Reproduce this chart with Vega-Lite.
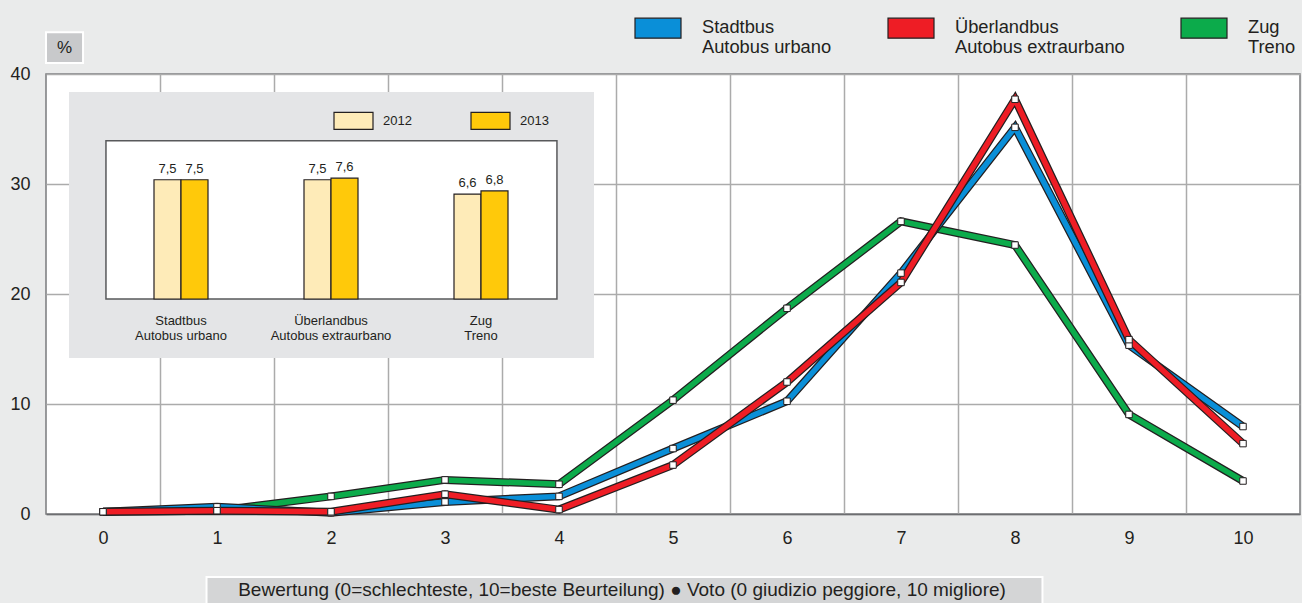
{
  "$schema": "https://vega.github.io/schema/vega-lite/v6.json",
  "width": 1254,
  "height": 440,
  "autosize": {"type": "none"},
  "padding": {"left": 46, "top": 74, "right": 2, "bottom": 89},
  "background": "#EAEBEB",
  "config": {
    "font": "Liberation Sans",
    "view": {"fill": "white", "stroke": "#7A7B7D", "strokeWidth": 1.5}
  },
  "datasets": {
    "lines": [
      {"score": 0, "series": "Stadtbus|Autobus urbano", "value": 0.2},
      {"score": 1, "series": "Stadtbus|Autobus urbano", "value": 0.65},
      {"score": 2, "series": "Stadtbus|Autobus urbano", "value": 0.12},
      {"score": 3, "series": "Stadtbus|Autobus urbano", "value": 1.1},
      {"score": 4, "series": "Stadtbus|Autobus urbano", "value": 1.6},
      {"score": 5, "series": "Stadtbus|Autobus urbano", "value": 5.95},
      {"score": 6, "series": "Stadtbus|Autobus urbano", "value": 10.25},
      {"score": 7, "series": "Stadtbus|Autobus urbano", "value": 21.9},
      {"score": 8, "series": "Stadtbus|Autobus urbano", "value": 35.15},
      {"score": 9, "series": "Stadtbus|Autobus urbano", "value": 15.35},
      {"score": 10, "series": "Stadtbus|Autobus urbano", "value": 7.95},
      {"score": 0, "series": "Überlandbus|Autobus extraurbano", "value": 0.2},
      {"score": 1, "series": "Überlandbus|Autobus extraurbano", "value": 0.3},
      {"score": 2, "series": "Überlandbus|Autobus extraurbano", "value": 0.2},
      {"score": 3, "series": "Überlandbus|Autobus extraurbano", "value": 1.8},
      {"score": 4, "series": "Überlandbus|Autobus extraurbano", "value": 0.4},
      {"score": 5, "series": "Überlandbus|Autobus extraurbano", "value": 4.45},
      {"score": 6, "series": "Überlandbus|Autobus extraurbano", "value": 12.0},
      {"score": 7, "series": "Überlandbus|Autobus extraurbano", "value": 21.05},
      {"score": 8, "series": "Überlandbus|Autobus extraurbano", "value": 37.7},
      {"score": 9, "series": "Überlandbus|Autobus extraurbano", "value": 15.85},
      {"score": 10, "series": "Überlandbus|Autobus extraurbano", "value": 6.4},
      {"score": 0, "series": "Zug|Treno", "value": 0.2},
      {"score": 1, "series": "Zug|Treno", "value": 0.3},
      {"score": 2, "series": "Zug|Treno", "value": 1.6},
      {"score": 3, "series": "Zug|Treno", "value": 3.1},
      {"score": 4, "series": "Zug|Treno", "value": 2.7},
      {"score": 5, "series": "Zug|Treno", "value": 10.35},
      {"score": 6, "series": "Zug|Treno", "value": 18.7},
      {"score": 7, "series": "Zug|Treno", "value": 26.6},
      {"score": 8, "series": "Zug|Treno", "value": 24.45},
      {"score": 9, "series": "Zug|Treno", "value": 9.05},
      {"score": 10, "series": "Zug|Treno", "value": 3.0}
    ],
    "inset": [
      {"cat": "Stadtbus|Autobus urbano", "year": "2012", "score": 7.5},
      {"cat": "Stadtbus|Autobus urbano", "year": "2013", "score": 7.5},
      {"cat": "Überlandbus|Autobus extraurbano", "year": "2012", "score": 7.5},
      {"cat": "Überlandbus|Autobus extraurbano", "year": "2013", "score": 7.6},
      {"cat": "Zug|Treno", "year": "2012", "score": 6.6},
      {"cat": "Zug|Treno", "year": "2013", "score": 6.8}
    ],
    "one": [{}]
  },
  "resolve": {"scale": {"x": "independent", "y": "independent", "color": "independent"}},
  "layer": [
    {"data": {"name": "lines"},
      "mark": {"type": "line", "color": "#231F20", "strokeWidth": 8, "strokeJoin": "miter"},
      "transform": [{"filter": "datum.series == 'Zug|Treno'"}],
      "encoding": {
        "x": {"field": "score", "type": "quantitative",
          "scale": {"domain": [-0.5, 10.5], "nice": false, "zero": false},
          "axis": {"orient": "bottom", "values": [0, 0.5, 1, 1.5, 2, 2.5, 3, 3.5, 4, 4.5, 5, 5.5, 6, 6.5, 7, 7.5, 8, 8.5, 9, 9.5, 10],
            "labelExpr": "datum.value % 1 == 0 ? format(datum.value, 'd') : ''",
            "grid": true, "gridColor": "#ABABAB", "gridWidth": 1.5,
            "gridOpacity": {"condition": {"test": "datum.value % 1 == 0", "value": 0}, "value": 1},
            "ticks": false, "domain": true, "domainColor": "#6D6E71", "domainWidth": 1.5,
            "labelFontSize": 18, "labelPadding": 15, "labelColor": "#231F20", "labelOverlap": false, "labelFlush": false,
            "title": null}},
        "y": {"field": "value", "type": "quantitative",
          "scale": {"domain": [0, 40], "nice": false},
          "axis": {"orient": "left", "values": [0, 10, 20, 30, 40], "grid": true, "gridColor": "#ABABAB", "gridWidth": 1.5,
            "ticks": false, "domain": false, "labelFontSize": 18, "labelPadding": 16, "labelColor": "#231F20", "title": null}}
      }
    },
    {"data": {"name": "one"},
      "mark": {"type": "rect", "fill": "#E4E5E7"},
      "encoding": {
        "x": {"datum": -0.298, "type": "quantitative", "scale": {"domain": [-0.5, 10.5], "nice": false, "zero": false}, "axis": null},
        "x2": {"datum": 4.307},
        "y": {"datum": 38.36, "type": "quantitative", "scale": {"domain": [0, 40], "nice": false}, "axis": null},
        "y2": {"datum": 14.18}}},
    {"data": {"name": "one"},
      "mark": {"type": "rect", "fill": "white", "stroke": "#58595B", "strokeWidth": 1.5},
      "encoding": {
        "x": {"datum": 0.026, "type": "quantitative", "scale": {"domain": [-0.5, 10.5], "nice": false, "zero": false}, "axis": null},
        "x2": {"datum": 3.982},
        "y": {"datum": 33.93, "type": "quantitative", "scale": {"domain": [0, 40], "nice": false}, "axis": null},
        "y2": {"datum": 19.55}}},
    {"data": {"name": "one"},
      "mark": {"type": "rect", "fill": "#C8C9CB", "stroke": "white", "strokeWidth": 2},
      "encoding": {
        "x": {"datum": -0.5, "type": "quantitative", "scale": {"domain": [-0.5, 10.5], "nice": false, "zero": false}, "axis": null},
        "x2": {"datum": -0.175},
        "y": {"datum": 43.8, "type": "quantitative", "scale": {"domain": [0, 40], "nice": false}, "axis": null},
        "y2": {"datum": 41.0}}},
    {"data": {"name": "one"},
      "mark": {"type": "text", "text": "%", "fontSize": 17, "color": "#231F20", "baseline": "middle", "align": "center"},
      "encoding": {
        "x": {"datum": -0.338, "type": "quantitative", "scale": {"domain": [-0.5, 10.5], "nice": false, "zero": false}, "axis": null},
        "y": {"datum": 42.4, "type": "quantitative", "scale": {"domain": [0, 40], "nice": false}, "axis": null}}},
    {"data": {"name": "one"},
      "mark": {"type": "rect", "fill": "#D4D5D6", "stroke": "white", "strokeWidth": 2},
      "encoding": {
        "x": {"datum": 0.908, "type": "quantitative", "scale": {"domain": [-0.5, 10.5], "nice": false, "zero": false}, "axis": null},
        "x2": {"datum": 8.241},
        "y": {"datum": -5.73, "type": "quantitative", "scale": {"domain": [0, 40], "nice": false}, "axis": null},
        "y2": {"datum": -9.5}}},
    {"data": {"name": "one"},
      "mark": {"type": "text", "text": "Bewertung (0=schlechteste, 10=beste Beurteilung)  ●  Voto (0 giudizio peggiore, 10 migliore)", "fontSize": 19, "color": "#231F20", "baseline": "alphabetic", "align": "center"},
      "encoding": {
        "x": {"datum": 4.553, "type": "quantitative", "scale": {"domain": [-0.5, 10.5], "nice": false, "zero": false}, "axis": null},
        "y": {"datum": -7.45, "type": "quantitative", "scale": {"domain": [0, 40], "nice": false}, "axis": null}}},
    {"data": {"name": "lines"},
      "transform": [{"filter": "datum.series == 'Zug|Treno'"}],
      "mark": {"type": "line", "strokeWidth": 5.5, "strokeJoin": "miter"},
      "encoding": {
        "x": {"field": "score", "type": "quantitative", "scale": {"domain": [-0.5, 10.5], "nice": false, "zero": false}, "axis": null},
        "y": {"field": "value", "type": "quantitative", "scale": {"domain": [0, 40], "nice": false}, "axis": null},
        "color": {"field": "series", "type": "nominal",
          "scale": {"domain": ["Stadtbus|Autobus urbano", "Überlandbus|Autobus extraurbano", "Zug|Treno"], "range": ["#0A8FD8", "#EE1D25", "#0CAB4B"]}, "legend": null}}},
    {"data": {"name": "lines"},
      "transform": [{"filter": "datum.series == 'Stadtbus|Autobus urbano'"}],
      "mark": {"type": "line", "color": "#231F20", "strokeWidth": 8, "strokeJoin": "miter"},
      "encoding": {
        "x": {"field": "score", "type": "quantitative", "scale": {"domain": [-0.5, 10.5], "nice": false, "zero": false}, "axis": null},
        "y": {"field": "value", "type": "quantitative", "scale": {"domain": [0, 40], "nice": false}, "axis": null}}},
    {"data": {"name": "lines"},
      "transform": [{"filter": "datum.series == 'Stadtbus|Autobus urbano'"}],
      "mark": {"type": "line", "strokeWidth": 5.5, "strokeJoin": "miter"},
      "encoding": {
        "x": {"field": "score", "type": "quantitative", "scale": {"domain": [-0.5, 10.5], "nice": false, "zero": false}, "axis": null},
        "y": {"field": "value", "type": "quantitative", "scale": {"domain": [0, 40], "nice": false}, "axis": null},
        "color": {"field": "series", "type": "nominal",
          "scale": {"domain": ["Stadtbus|Autobus urbano", "Überlandbus|Autobus extraurbano", "Zug|Treno"], "range": ["#0A8FD8", "#EE1D25", "#0CAB4B"]}, "legend": null}}},
    {"data": {"name": "lines"},
      "transform": [{"filter": "datum.series == 'Überlandbus|Autobus extraurbano'"}],
      "mark": {"type": "line", "color": "#231F20", "strokeWidth": 8, "strokeJoin": "miter"},
      "encoding": {
        "x": {"field": "score", "type": "quantitative", "scale": {"domain": [-0.5, 10.5], "nice": false, "zero": false}, "axis": null},
        "y": {"field": "value", "type": "quantitative", "scale": {"domain": [0, 40], "nice": false}, "axis": null}}},
    {"data": {"name": "lines"},
      "transform": [{"filter": "datum.series == 'Überlandbus|Autobus extraurbano'"}],
      "mark": {"type": "line", "strokeWidth": 5.5, "strokeJoin": "miter"},
      "encoding": {
        "x": {"field": "score", "type": "quantitative", "scale": {"domain": [-0.5, 10.5], "nice": false, "zero": false}, "axis": null},
        "y": {"field": "value", "type": "quantitative", "scale": {"domain": [0, 40], "nice": false}, "axis": null},
        "color": {"field": "series", "type": "nominal",
          "scale": {"domain": ["Stadtbus|Autobus urbano", "Überlandbus|Autobus extraurbano", "Zug|Treno"], "range": ["#0A8FD8", "#EE1D25", "#0CAB4B"]}, "legend": null}}},
    {"data": {"name": "lines"},
      "mark": {"type": "square", "size": 25, "opacity": 1, "filled": true},
      "encoding": {
        "x": {"field": "score", "type": "quantitative", "scale": {"domain": [-0.5, 10.5], "nice": false, "zero": false}, "axis": null},
        "y": {"field": "value", "type": "quantitative", "scale": {"domain": [0, 40], "nice": false}, "axis": null},
        "color": {"field": "series", "type": "nominal",
          "scale": {"domain": ["Stadtbus|Autobus urbano", "Überlandbus|Autobus extraurbano", "Zug|Treno"], "range": ["#0A8FD8", "#EE1D25", "#0CAB4B"]},
          "legend": {"orient": "none", "legendX": 588, "legendY": -70, "direction": "horizontal", "columns": 3, "title": null, "padding": 0,
            "symbolType": "M-1,-0.435H1V0.435H-1Z", "symbolSize": 2116, "symbolStrokeColor": "#231F20", "symbolStrokeWidth": 1.2, "symbolOpacity": 1,
            "labelFontSize": 18.3, "labelColor": "#231F20", "labelExpr": "split(datum.label, '|')", "labelBaseline": "middle",
            "labelOffset": 20, "columnPadding": 53, "labelLimit": 400}}}},
    {"data": {"name": "lines"},
      "mark": {"type": "square", "size": 42, "fill": "white", "stroke": "#231F20", "strokeWidth": 1, "opacity": 1, "filled": true},
      "encoding": {
        "x": {"field": "score", "type": "quantitative", "scale": {"domain": [-0.5, 10.5], "nice": false, "zero": false}, "axis": null},
        "y": {"field": "value", "type": "quantitative", "scale": {"domain": [0, 40], "nice": false}, "axis": null}}},
    {"data": {"name": "inset"},
      "mark": {"type": "bar", "stroke": "#231F20", "strokeWidth": 1.2, "opacity": 1},
      "encoding": {
        "x": {"field": "cat", "type": "nominal",
          "scale": {"domain": ["Stadtbus|Autobus urbano", "Überlandbus|Autobus extraurbano", "Zug|Treno"], "range": [60, 510], "paddingInner": 0.64, "paddingOuter": 0.32}, "axis": null},
        "y": {"field": "score", "type": "quantitative", "scale": {"domain": [0, 10], "range": [225, 66], "nice": false}, "axis": null},
        "xOffset": {"field": "year", "type": "nominal", "scale": {"paddingInner": 0, "paddingOuter": 0}},
        "color": {"field": "year", "type": "nominal", "scale": {"domain": ["2012", "2013"], "range": ["#FEEBB8", "#FFC90A"]},
          "legend": {"orient": "none", "legendX": 287, "legendY": 26, "direction": "horizontal", "columns": 2, "title": null, "padding": 0,
            "symbolType": "M-1,-0.436H1V0.436H-1Z", "symbolSize": 1521, "symbolStrokeColor": "#231F20", "symbolStrokeWidth": 1.2, "symbolOpacity": 1,
            "labelFontSize": 13, "labelColor": "#231F20", "labelOffset": 9, "columnPadding": 56}}}},
    {"data": {"name": "inset"},
      "transform": [{"calculate": "replace(format(datum.score, '.1f'), '.', ',')", "as": "label"}],
      "mark": {"type": "text", "baseline": "alphabetic", "dy": -7, "fontSize": 13, "color": "#231F20"},
      "encoding": {
        "x": {"field": "cat", "type": "nominal",
          "scale": {"domain": ["Stadtbus|Autobus urbano", "Überlandbus|Autobus extraurbano", "Zug|Treno"], "range": [60, 510], "paddingInner": 0.64, "paddingOuter": 0.32}, "axis": null},
        "y": {"field": "score", "type": "quantitative", "scale": {"domain": [0, 10], "range": [225, 66], "nice": false}, "axis": null},
        "xOffset": {"field": "year", "type": "nominal", "scale": {"paddingInner": 0, "paddingOuter": 0}},
        "text": {"field": "label"}}},
    {"data": {"name": "inset"},
      "transform": [{"filter": "datum.year == '2012'"}],
      "mark": {"type": "text", "baseline": "alphabetic", "dy": 26, "fontSize": 13, "lineHeight": 15, "lineBreak": "|", "color": "#231F20"},
      "encoding": {
        "x": {"field": "cat", "type": "nominal",
          "scale": {"domain": ["Stadtbus|Autobus urbano", "Überlandbus|Autobus extraurbano", "Zug|Treno"], "range": [60, 510], "paddingInner": 0.64, "paddingOuter": 0.32}, "axis": null},
        "y": {"datum": 0, "type": "quantitative", "scale": {"domain": [0, 10], "range": [225, 66], "nice": false}, "axis": null},
        "text": {"field": "cat"}}}
  ]
}
